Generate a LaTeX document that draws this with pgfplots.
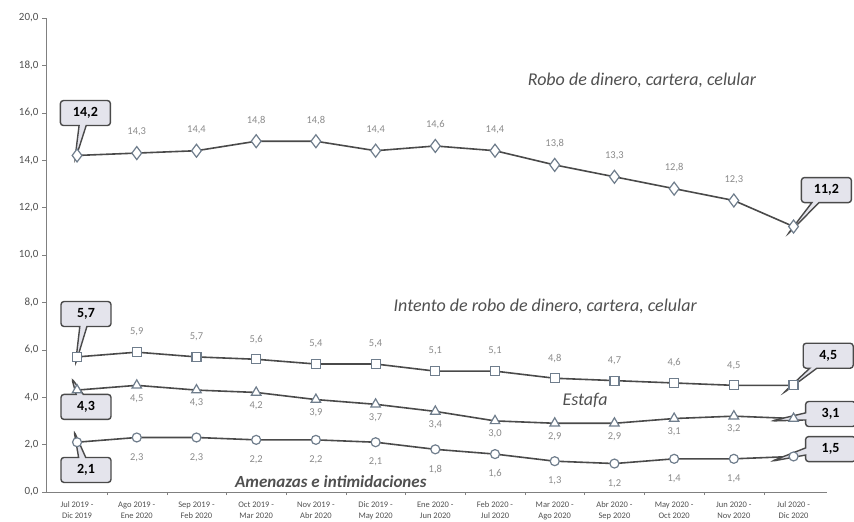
\documentclass[border=0pt]{standalone}
\usepackage{pgfplots}
\pgfplotsset{compat=1.18}
\usepackage{fontspec}
\setmainfont{Carlito}
\usetikzlibrary{shapes.callouts}
\definecolor{linec}{HTML}{4A4A4A}
\definecolor{markc}{HTML}{6F7D8C}
\definecolor{labc}{HTML}{8A8A8A}
\definecolor{boxfill}{HTML}{E4E4EC}
\definecolor{txtc}{HTML}{505050}
\begin{document}
\begin{tikzpicture}[x=1pt,y=1pt]
\useasboundingbox (-46,-30) rectangle (808,492);
\begin{axis}[
  scale only axis, width=781pt, height=474pt, at={(0,0)}, anchor=south west,
  xmin=-0.52, xmax=12.56, ymin=0, ymax=20,
  axis lines*=left,
  axis line style={draw=gray, line width=0.8pt},
  clip=false,
  ytick={0,2,...,20},
  yticklabel style={/pgf/number format/use comma, /pgf/number format/fixed, /pgf/number format/fixed zerofill, /pgf/number format/precision=1},
  /pgf/number format/assume math mode=true,
  y tick label style={font=\fontsize{11}{13}\selectfont, text=txtc},
  tick align=outside, major tick length=4pt,
  tick style={draw=gray},
  xtick={0,...,12},
  major x tick style={draw=none},
  minor xtick={0.5,1.5,...,11.5},
  minor tick length=3pt,
  x tick label style={align=center, font=\fontsize{8.5}{11}\selectfont, text=txtc, yshift=-2pt},
  xticklabels={{Jul 2019 -\\Dic 2019},{Ago 2019 -\\Ene 2020},{Sep 2019 -\\Feb 2020},{Oct 2019 -\\Mar 2020},{Nov 2019 -\\Abr 2020},{Dic 2019 -\\May 2020},{Ene 2020 -\\Jun 2020},{Feb 2020 -\\Jul 2020},{Mar 2020 -\\Ago 2020},{Abr 2020 -\\Sep 2020},{May 2020 -\\Oct 2020},{Jun 2020 -\\Nov 2020},{Jul 2020 -\\Dic 2020}},
]
% Robo
\addplot[linec, line width=1.6pt, mark=diamond*, mark size=6.5pt, mark options={fill=white, draw=markc, line width=1.2pt}] coordinates {
(0,14.2) (1,14.3) (2,14.4) (3,14.8) (4,14.8) (5,14.4) (6,14.6) (7,14.4) (8,13.8) (9,13.3) (10,12.8) (11,12.3) (12,11.2)};
% Intento
\addplot[linec, line width=1.6pt, mark=square*, mark size=4.5pt, mark options={fill=white, draw=markc, line width=1.2pt}] coordinates {
(0,5.7) (1,5.9) (2,5.7) (3,5.6) (4,5.4) (5,5.4) (6,5.1) (7,5.1) (8,4.8) (9,4.7) (10,4.6) (11,4.5) (12,4.5)};
% Estafa
\addplot[linec, line width=1.6pt, mark=triangle*, mark size=5.5pt, mark options={fill=white, draw=markc, line width=1.2pt}] coordinates {
(0,4.3) (1,4.5) (2,4.3) (3,4.2) (4,3.9) (5,3.7) (6,3.4) (7,3.0) (8,2.9) (9,2.9) (10,3.1) (11,3.2) (12,3.1)};
% Amenazas
\addplot[linec, line width=1.6pt, mark=*, mark size=4.5pt, mark options={fill=white, draw=markc, line width=1.2pt}] coordinates {
(0,2.1) (1,2.3) (2,2.3) (3,2.2) (4,2.2) (5,2.1) (6,1.8) (7,1.6) (8,1.3) (9,1.2) (10,1.4) (11,1.4) (12,1.5)};

% value labels
\pgfplotsset{vlab/.style={draw=none, mark=none, point meta=y,
  nodes near coords={\pgfmathprintnumber[use comma, fixed, fixed zerofill, precision=1]{\pgfplotspointmeta}},
  every node near coord/.append style={anchor=center, yshift=#1, font=\fontsize{10.5}{12}\selectfont, text=labc}}}
\addplot[vlab=21pt] coordinates {
(1,14.3) (2,14.4) (3,14.8) (4,14.8) (5,14.4) (6,14.6) (7,14.4) (8,13.8) (9,13.3) (10,12.8) (11,12.3)};
\addplot[vlab=20pt] coordinates {
(1,5.9) (2,5.7) (3,5.6) (4,5.4) (5,5.4) (6,5.1) (7,5.1) (8,4.8) (9,4.7) (10,4.6) (11,4.5)};
\addplot[vlab=-13pt] coordinates {
(1,4.5) (2,4.3) (3,4.2) (4,3.9) (5,3.7) (6,3.4) (7,3.0) (8,2.9) (9,2.9) (10,3.1) (11,3.2)};
\addplot[vlab=-20pt] coordinates {
(1,2.3) (2,2.3) (3,2.2) (4,2.2) (5,2.1) (6,1.8) (7,1.6) (8,1.3) (9,1.2) (10,1.4) (11,1.4)};

% callouts
\tikzset{cbox/.style={rectangle callout, fill=boxfill, draw=linec, line width=1.4pt, rounded corners=3pt, font=\bfseries\fontsize{14}{16}\selectfont, minimum width=50pt, minimum height=25pt, text=black, inner sep=2pt}}
\node[cbox, callout relative pointer={(-8pt,-36pt)}] at (axis cs:0.14,15.99) {14,2};
\node[cbox, callout relative pointer={(-8pt,-38pt)}] at (axis cs:0.15,7.51) {5,7};
\node[cbox, callout relative pointer={(-8pt,16pt)}] at (axis cs:0.15,3.59) {4,3};
\node[cbox, callout relative pointer={(-8pt,26pt)}] at (axis cs:0.15,0.93) {2,1};
\node[cbox, callout relative pointer={(-28pt,-32pt)}] at (axis cs:12.55,12.74) {11,2};
\node[cbox, callout relative pointer={(-30pt,-25pt)}] at (axis cs:12.58,5.75) {4,5};
\node[cbox, callout relative pointer={(-34pt,-4pt)}] at (axis cs:12.62,3.29) {3,1};
\node[cbox, callout relative pointer={(-34pt,-7pt)}] at (axis cs:12.62,1.81) {1,5};

% series labels
\node[font=\itshape\fontsize{18}{21}\selectfont, text=txtc] at (axis cs:9.46,17.38) {Robo de dinero, cartera, celular};
\node[font=\itshape\fontsize{18}{21}\selectfont, text=txtc] at (axis cs:7.84,7.81) {Intento de robo de dinero, cartera, celular};
\node[font=\itshape\fontsize{18}{21}\selectfont, text=txtc] at (axis cs:8.51,3.88) {Estafa};
\node[font=\bfseries\itshape\fontsize{17}{20}\selectfont, text=txtc] at (axis cs:4.25,0.46) {Amenazas e intimidaciones};
\end{axis}
\end{tikzpicture}
\end{document}
